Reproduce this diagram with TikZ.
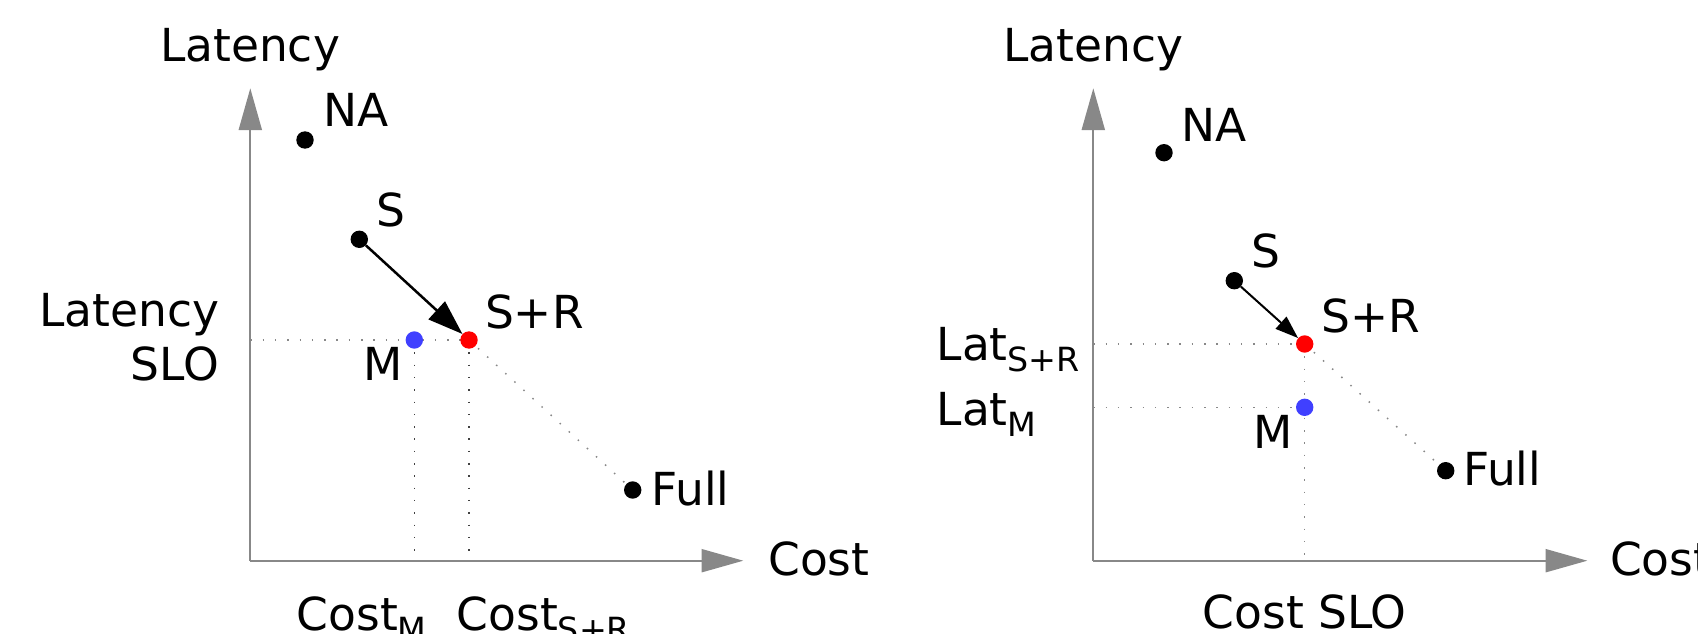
\documentclass[tikz,border=0pt]{standalone}
\usepackage{fontspec}
\setmainfont{DejaVu Sans}
\usetikzlibrary{arrows.meta}
\definecolor{axisgray}{HTML}{888888}
\definecolor{mblue}{HTML}{4040FF}
\definecolor{srred}{HTML}{FF0000}
\newcommand\subs[1]{\raisebox{-11pt}{\fontsize{33.3}{33.3}\selectfont #1}}
\tikzset{
  lbl/.style={inner sep=0pt, outer sep=0pt, font=\fontsize{45.5}{53.3}\selectfont},
  dot/.style={circle, fill=black, draw=none, inner sep=0pt, minimum size=17.4pt},
  reddot/.style={dot, fill=srred},
  bluedot/.style={dot, fill=mblue},
  axisline/.style={draw=axisgray, line width=2pt, -{Triangle[length=41.7pt,width=23pt]}, fill=axisgray},
  guide/.style={draw=axisgray, line width=1.5pt, dash pattern=on 1.5pt off 10.8pt},
  vguide/.style={draw=black!75, line width=1.5pt, dash pattern=on 1.5pt off 10.8pt},
  bigarrow/.style={draw=black, line width=2.5pt, -{Triangle[length=35pt,width=24pt]}},
  smallarrow/.style={draw=black, line width=2pt, -{Triangle[length=23pt,width=16pt]}},
}
\begin{document}
\begin{tikzpicture}[x=1pt,y=-1pt]
\useasboundingbox (0,0) rectangle (1698,634);
% ---------------- left panel ----------------
\coordinate (oL) at (250.3,560.7);
\coordinate (yL) at (250.3,88.3);
\coordinate (xL) at (743.3,560.7);
\coordinate (hL) at (250.3,340);
\coordinate (pNAL) at (305,140);
\coordinate (pSL) at (359.3,239.3);
\coordinate (pSRL) at (469,340);
\coordinate (pML) at (414.3,340);
\coordinate (pFL) at (632.7,490);
\coordinate (bML) at (414.3,560.7);
\coordinate (bSRL) at (469,560.7);
\draw[axisline] (oL) -- (yL);
\draw[axisline] (oL) -- (xL);
\draw[guide] (hL) -- (pSRL);
\draw[vguide] (pML) -- (bML);
\draw[vguide] (pSRL) -- (bSRL);
\draw[guide] (pSRL) -- (pFL);
\node[dot] (naL) at (pNAL) {};
\node[dot] (sL) at (pSL) {};
\node[bluedot] (mL) at (pML) {};
\node[reddot] (srL) at (pSRL) {};
\node[dot] (fullL) at (pFL) {};
\draw[bigarrow] (sL) -- (srL);
\node[lbl, anchor=base] (latL) at (250,62) {Latency};
\node[lbl, anchor=base west] (naLt) at (323.3,126.7) {NA};
\node[lbl, anchor=base west] (sLt) at (376,226.7) {S};
\node[lbl, anchor=base west] (srLt) at (485,328.3) {S+R};
\node[lbl, anchor=base west] (mLt) at (363.3,380) {M};
\node[lbl, anchor=base west] (fullLt) at (651.7,505) {Full};
\node[lbl, anchor=base east] (sloL1) at (219.3,326.7) {Latency};
\node[lbl, anchor=base east] (sloL2) at (219.3,380) {SLO};
\node[lbl, anchor=base west] (costL) at (768.3,575) {Cost};
\node[lbl, anchor=base west] (costM) at (296.7,630) {Cost\subs{M}};
\node[lbl, anchor=base west] (costSR) at (456.7,630) {Cost\subs{S+R}};
% ---------------- right panel ----------------
\coordinate (oR) at (1093.3,560.7);
\coordinate (yR) at (1093.3,88.3);
\coordinate (xR) at (1587.3,560.7);
\coordinate (hSR) at (1093.3,344);
\coordinate (hM) at (1093.3,407.3);
\coordinate (pNAR) at (1164,152.7);
\coordinate (pSR) at (1234.3,280.7);
\coordinate (pSRR) at (1304.7,344);
\coordinate (pMR) at (1304.7,407.3);
\coordinate (pFR) at (1445.7,470.7);
\coordinate (bR) at (1304.7,560.7);
\draw[axisline] (oR) -- (yR);
\draw[axisline] (oR) -- (xR);
\draw[guide] (hSR) -- (pSRR);
\draw[guide] (hM) -- (pMR);
\draw[guide] (pSRR) -- (bR);
\draw[guide] (pSRR) -- (pFR);
\node[dot] (naR) at (pNAR) {};
\node[dot] (sR) at (pSR) {};
\node[reddot] (srR) at (pSRR) {};
\node[bluedot] (mR) at (pMR) {};
\node[dot] (fullR) at (pFR) {};
\draw[smallarrow] (sR) -- (srR);
\node[lbl, anchor=base] (latR) at (1093.3,62) {Latency};
\node[lbl, anchor=base west] (naRt) at (1181,141.7) {NA};
\node[lbl, anchor=base west] (sRt) at (1251.7,267.7) {S};
\node[lbl, anchor=base west] (srRt) at (1321.7,332.3) {S+R};
\node[lbl, anchor=base west] (mRt) at (1253.3,448.3) {M};
\node[lbl, anchor=base west] (fullRt) at (1463.3,485.7) {Full};
\node[lbl, anchor=base west] (latSR) at (936.7,360) {Lat\subs{S+R}};
\node[lbl, anchor=base west] (latM) at (936.7,425) {Lat\subs{M}};
\node[lbl, anchor=base] (costSLO) at (1304.7,628) {Cost SLO};
\node[lbl, anchor=base west] (costR) at (1610,575) {Cost};
\end{tikzpicture}
\end{document}
